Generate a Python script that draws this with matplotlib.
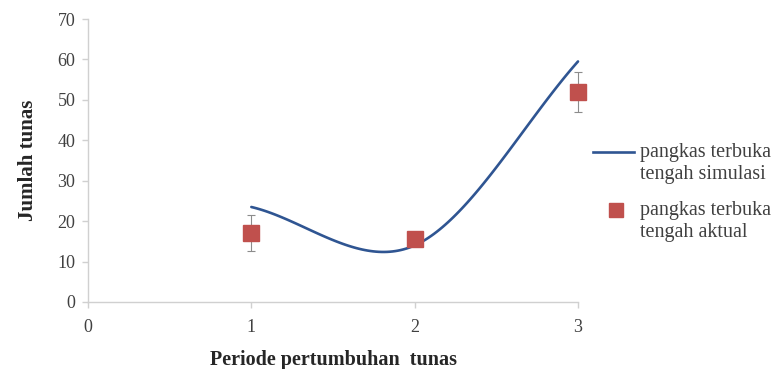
import numpy as np
import matplotlib
matplotlib.use('Agg')
import matplotlib.pyplot as plt
from matplotlib.lines import Line2D

periods = [1, 2, 3]
simulasi = [23.5, 14.0, 59.5]
aktual = [17.0, 15.5, 52.0]
aktual_err = [4.5, 0.0, 5.0]

xticks = [0, 1, 2, 3]
yticks = [0, 10, 20, 30, 40, 50, 60, 70]

lab_sim = 'pangkas terbuka\ntengah simulasi'
lab_akt = 'pangkas terbuka\ntengah aktual'

line_col = '#2f5592'
mark_col = '#c0504d'


def excel_smooth(x, y, n=60):
    # bezier through points, tangents like an Excel smoothed line
    p = np.column_stack([x, y]).astype(float)
    m = len(p)
    tang = np.zeros_like(p)
    for i in range(m):
        if i == 0:
            tang[i] = p[1] - p[0]
        elif i == m - 1:
            tang[i] = p[-1] - p[-2]
        else:
            tang[i] = (p[i + 1] - p[i - 1]) / 2
    xs, ys = [], []
    t = np.linspace(0, 1, n)[:, None]
    for i in range(m - 1):
        b0, b3 = p[i], p[i + 1]
        b1 = b0 + tang[i] / 3
        b2 = b3 - tang[i + 1] / 3
        seg = ((1 - t) ** 3) * b0 + 3 * ((1 - t) ** 2) * t * b1 + 3 * (1 - t) * t ** 2 * b2 + t ** 3 * b3
        xs.extend(seg[:, 0])
        ys.extend(seg[:, 1])
    return np.array(xs), np.array(ys)


plt.rcParams['font.family'] = 'Liberation Serif'

W, H = 781, 369
fig = plt.figure(figsize=(W / 100, H / 100), dpi=100)
ax = fig.add_axes([88 / W, 1 - 302 / H, 490 / W, 283 / H])

sx, sy = excel_smooth(periods, simulasi)
ax.plot(sx, sy, color=line_col, lw=1.9, solid_capstyle='round', clip_on=False)
ax.errorbar(periods, aktual, yerr=aktual_err, fmt='none', ecolor='#8c8c8c',
            elinewidth=0.8, capsize=3, capthick=0.8, clip_on=False)
ax.plot(periods, aktual, ls='none', marker='s', ms=12, color=mark_col, clip_on=False)

ax.set_xlim(0, 3)
ax.set_ylim(0, 70)
ax.set_xticks(xticks)
ax.set_yticks(yticks)

for s in ['top', 'right']:
    ax.spines[s].set_visible(False)
for s in ['left', 'bottom']:
    ax.spines[s].set_color('#d0d0d0')
    ax.spines[s].set_linewidth(1.0)
ax.tick_params(colors='#d0d0d0', labelcolor='#404040', labelsize=13, length=4, width=1)
ax.tick_params(axis='y', pad=5)
ax.tick_params(axis='x', pad=8)

ax.set_xlabel('Periode pertumbuhan  tunas', fontweight='bold', fontsize=14.5,
              color='#262626', labelpad=10)
ax.set_ylabel('Jumlah tunas', fontweight='bold', fontsize=15, color='#262626', labelpad=14)

# legend drawn by hand so the handles sit on the first text line, like Excel
fig.add_artist(Line2D([593 / W, 634 / W], [1 - 152 / H] * 2, color=line_col, lw=1.9))
fig.add_artist(Line2D([616 / W], [1 - 210 / H], ls='none', marker='s', ms=9.5, color=mark_col))
fig.text(640 / W, 1 - 163.5 / H, lab_sim, va='center', ha='left', fontsize=14.5,
         color='#404040', linespacing=1.25)
fig.text(640 / W, 1 - 221.5 / H, lab_akt, va='center', ha='left', fontsize=14.5,
         color='#404040', linespacing=1.25)

fig.savefig('out.png', dpi=100)
